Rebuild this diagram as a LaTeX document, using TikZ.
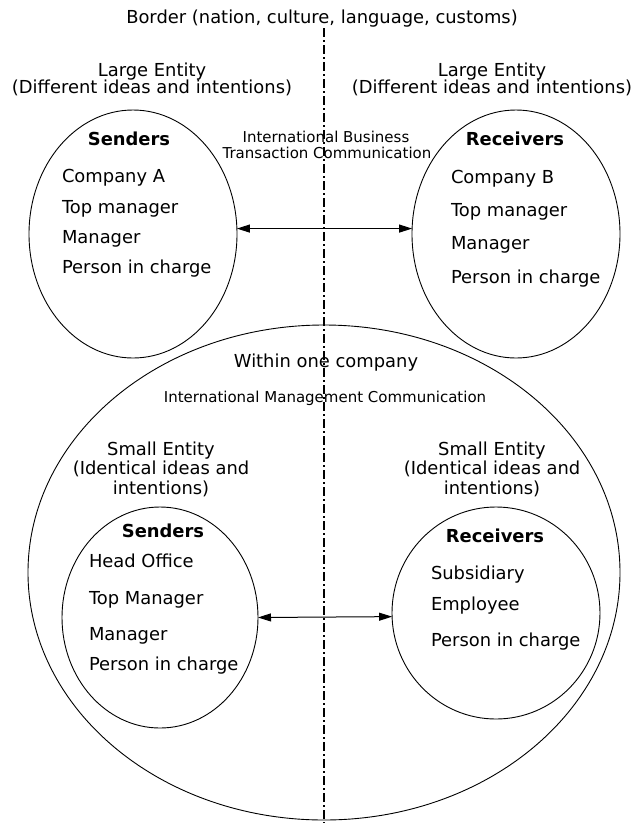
\documentclass[tikz,border=0pt]{standalone}
\usepackage{fontspec}
\setmainfont{DejaVu Sans}
\usetikzlibrary{arrows.meta,shapes.geometric}
\begin{document}
\begin{tikzpicture}[x=1pt,y=-1pt,
  every node/.style={inner sep=0pt, outer sep=0pt},
  txt/.style={font=\fontsize{17.9}{20}\selectfont, anchor=base},
  itm/.style={font=\fontsize{17.9}{20}\selectfont, anchor=base west},
  hdr/.style={font=\fontsize{17.9}{20}\selectfont\bfseries, anchor=base},
  sml/.style={font=\fontsize{15}{18}\selectfont, anchor=base},
  ell/.style={draw, ellipse, line width=0.9pt},
  conn/.style={line width=1pt, {Triangle[length=13pt,width=8pt]}-{Triangle[length=13pt,width=8pt]}},
  borderline/.style={line width=1.1pt, dash pattern=on 9pt off 3pt on 1.5pt off 3.5pt}
]
\useasboundingbox (0,0) rectangle (634,823);

% border line
\coordinate (BT) at (324,28);
\coordinate (BB) at (324,823);
\draw[borderline] (BT) -- (BB);

\node[txt] (border) at (322,23) {Border (nation, culture, language, customs)};

% large entity labels
\node[txt] (leL1) at (152,76) {Large Entity};
\node[txt] (leL2) at (152,93) {(Different ideas and intentions)};
\node[txt] (leR1) at (492,76) {Large Entity};
\node[txt] (leR2) at (492,93) {(Different ideas and intentions)};

% top ellipses
\node[ell, minimum width=208pt, minimum height=248pt] (LT) at (133,234) {};
\node[ell, minimum width=208pt, minimum height=248pt] (RT) at (516,234) {};

\node[hdr] (sendA) at (129,145) {Senders};
\node[itm] (a1) at (62,182) {Company A};
\node[itm] (a2) at (62,213) {Top manager};
\node[itm] (a3) at (62,243) {Manager};
\node[itm] (a4) at (62,273) {Person in charge};

\node[hdr] (recB) at (515,145) {Receivers};
\node[itm] (b1) at (451,183) {Company B};
\node[itm] (b2) at (451,216) {Top manager};
\node[itm] (b3) at (451,249) {Manager};
\node[itm] (b4) at (451,283) {Person in charge};

\node[sml] (ibt1) at (326,142) {International Business};
\node[sml] (ibt2) at (327,158) {Transaction Communication};

\draw[conn] (LT.3) -- (RT.177);

% big ellipse
\node[ell, minimum width=592pt, minimum height=495pt] (BIG) at (324,572.5) {};
\node[txt] (within) at (326,367) {Within one company};
\node[sml] (imc) at (325,402) {International Management Communication};

% small entity labels
\node[txt] (seL1) at (161,455) {Small Entity};
\node[txt] (seL2) at (161,474) {(Identical ideas and};
\node[txt] (seL3) at (161,494) {intentions)};
\node[txt] (seR1) at (492,455) {Small Entity};
\node[txt] (seR2) at (492,474) {(Identical ideas and};
\node[txt] (seR3) at (492,494) {intentions)};

% small ellipses
\node[ell, minimum width=196pt, minimum height=221pt] (LS) at (160,617.5) {};
\node[ell, minimum width=208pt, minimum height=212pt] (RS) at (496,613) {};

\node[hdr] (sendH) at (163,537) {Senders};
\node[itm] (c1) at (89,567) {Head Office};
\node[itm] (c2) at (89,604) {Top Manager};
\node[itm] (c3) at (89,640) {Manager};
\node[itm] (c4) at (89,670) {Person in charge};

\node[hdr] (recS) at (495,542) {Receivers};
\node[itm] (d1) at (431,579) {Subsidiary};
\node[itm] (d2) at (431,610) {Employee};
\node[itm] (d3) at (431,646) {Person in charge};

\draw[conn] (LS.east) -- (RS.182);
\end{tikzpicture}
\end{document}
